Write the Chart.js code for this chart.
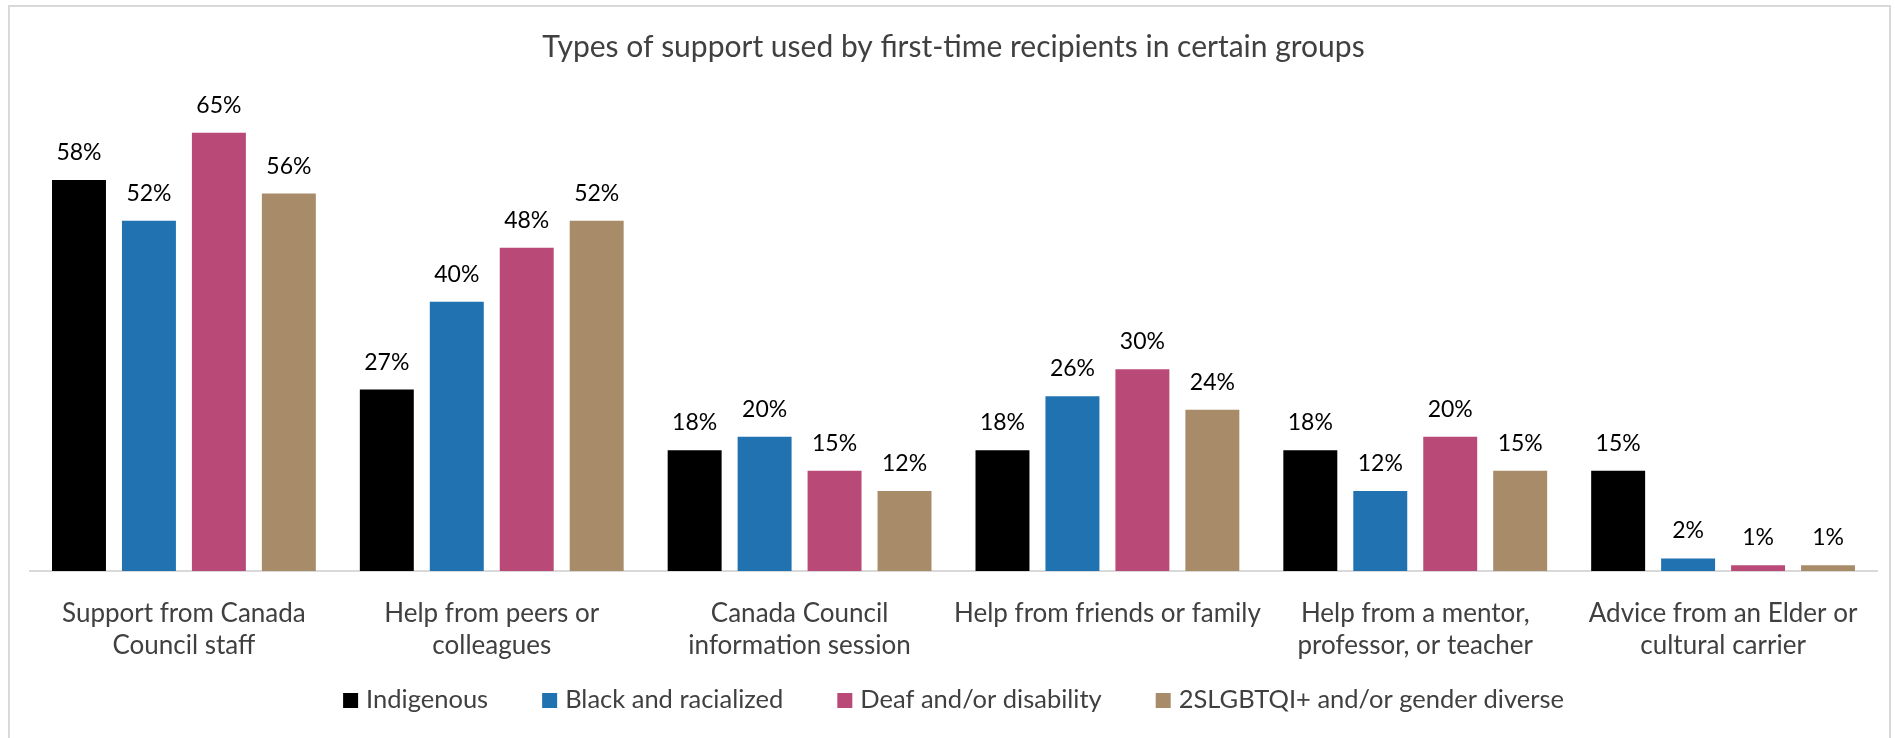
<!DOCTYPE html>
<html lang="en">
<head>
    <meta charset="UTF-8">
    <title>Types of support used by first-time recipients</title>
    <script src="https://cdn.jsdelivr.net/npm/chart.js"></script>
    <style>
        html, body {
            margin: 0;
            padding: 0;
            background: #ffffff;
            overflow: hidden;
        }
        .frame {
            position: absolute;
            left: 8px;
            top: 5px;
            width: 1883px;
            height: 800px;
            border: 2px solid #d9d9d9;
            box-sizing: border-box;
        }
        #supportChart {
            position: absolute;
            left: 0;
            top: 0;
        }
    </style>
</head>
<body>
    <div class="frame"></div>
    <canvas id="supportChart" width="1895" height="738"></canvas>
    <script>
        const categories = [
            ['Support from Canada', 'Council staff'],
            ['Help from peers or', 'colleagues'],
            ['Canada Council', 'information session'],
            'Help from friends or family',
            ['Help from a mentor,', 'professor, or teacher'],
            ['Advice from an Elder or', 'cultural carrier']
        ];
        const seriesNames = ['Indigenous', 'Black and racialized', 'Deaf and/or disability', '2SLGBTQI+ and/or gender diverse'];
        const indigenous = [58, 27, 18, 18, 18, 15];
        const blackRacialized = [52, 40, 20, 26, 12, 2];
        const deafDisability = [65, 48, 15, 30, 20, 1];
        const genderDiverse = [56, 52, 12, 24, 15, 1];
        const seriesColors = ['#000000', '#2172b1', '#b94a78', '#a88c69'];
        const yMax = 70;

        Chart.defaults.font.family = 'Lato';

        // percentage above each bar
        const barValueLabels = {
            id: 'barValueLabels',
            afterDatasetsDraw(chart) {
                const ctx = chart.ctx;
                ctx.save();
                ctx.font = '23px Lato';
                ctx.fillStyle = '#000000';
                ctx.textAlign = 'center';
                ctx.textBaseline = 'alphabetic';
                chart.data.datasets.forEach((ds, i) => {
                    chart.getDatasetMeta(i).data.forEach((bar, j) => {
                        ctx.fillText(ds.data[j] + '%', bar.x, bar.y - 19);
                    });
                });
                ctx.restore();
            }
        };

        // legend row under the axis labels
        const bottomLegend = {
            id: 'bottomLegend',
            afterDraw(chart) {
                const ctx = chart.ctx;
                const box = 15, gap = 8, spacing = 54, baseline = 708;
                ctx.save();
                ctx.font = '25.5px Lato';
                ctx.textBaseline = 'alphabetic';
                ctx.textAlign = 'left';
                const widths = chart.data.datasets.map(ds => box + gap + ctx.measureText(ds.label).width);
                const total = widths.reduce((a, b) => a + b, 0) + spacing * (widths.length - 1);
                let x = (chart.chartArea.left + chart.chartArea.right) / 2 - total / 2;
                chart.data.datasets.forEach((ds, i) => {
                    ctx.fillStyle = ds.backgroundColor;
                    ctx.fillRect(x, baseline - box, box, box);
                    ctx.fillStyle = '#404040';
                    ctx.fillText(ds.label, x + box + gap, baseline);
                    x += widths[i] + spacing;
                });
                ctx.restore();
            }
        };

        const seriesData = [indigenous, blackRacialized, deafDisability, genderDiverse];

        new Chart(document.getElementById('supportChart'), {
            type: 'bar',
            data: {
                labels: categories,
                datasets: seriesNames.map((name, i) => ({
                    label: name,
                    data: seriesData[i],
                    backgroundColor: seriesColors[i],
                    borderColor: 'rgba(255, 255, 255, 0.3)',
                    borderWidth: 1,
                    categoryPercentage: 0.909,
                    barPercentage: 0.8
                }))
            },
            options: {
                responsive: false,
                animation: false,
                layout: {
                    padding: { left: 30, right: 18, top: 0, bottom: 67 }
                },
                plugins: {
                    legend: { display: false },
                    tooltip: { enabled: false },
                    title: {
                        display: true,
                        text: 'Types of support used by first-time recipients in certain groups',
                        color: '#404040',
                        font: { size: 30, weight: 'normal' },
                        padding: { top: 29, bottom: 33 }
                    }
                },
                scales: {
                    x: {
                        grid: { display: false, drawTicks: false },
                        border: { display: true, color: '#d9d9d9', width: 2 },
                        ticks: {
                            color: '#404040',
                            font: { size: 26, lineHeight: 1.25 },
                            padding: 26,
                            maxRotation: 0,
                            autoSkip: false
                        },
                        afterFit(scale) {
                            // keep the label band a fixed height
                            scale.height = 100;
                        }
                    },
                    y: {
                        display: false,
                        min: 0,
                        max: yMax
                    }
                }
            },
            plugins: [barValueLabels, bottomLegend]
        });
    </script>
</body>
</html>
